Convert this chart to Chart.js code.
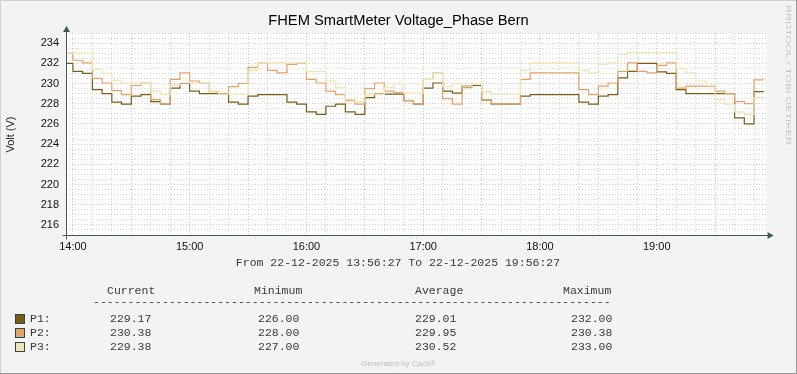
<!DOCTYPE html>
<html>
<head>
<meta charset="utf-8">
<script src="https://cdn.jsdelivr.net/npm/chart.js@4.4.1/dist/chart.umd.min.js"></script>
<style>
  html, body { margin: 0; padding: 0; background: #f3f3f3; }
  #wrap { width: 797px; height: 374px; }
</style>
</head>
<body>
<div id="wrap"><canvas id="voltChart" width="797" height="374"></canvas></div>
<script>
// 5 minute buckets: first 13:55-14:00, last 19:50-19:55 (minutes since midnight)
const startMinute = 13 * 60 + 55;
const stepMinutes = 5;
const xMin = 13 * 60 + 56 + 27 / 60;
const xMax = xMin + 6 * 60;
const yMin = 215;
const yMax = 235;

const p1Values = [
  232.0, 231.2, 231.0, 229.4, 229.0, 228.15, 227.95, 228.75, 228.9, 228.2,
  227.95, 229.55, 230.0, 229.25, 229.0, 229.0, 229.0, 228.15, 227.95, 228.75,
  228.9, 228.9, 228.9, 228.15, 227.95, 227.2, 226.95, 227.75, 227.95, 227.2,
  226.95, 228.6, 228.95, 228.95, 228.95, 228.3, 227.95, 229.55, 230.05, 229.25,
  229.05, 229.75, 229.8, 228.35, 227.95, 227.95, 227.95, 228.75, 228.9, 228.9,
  228.9, 228.9, 228.9, 228.15, 227.95, 228.75, 228.9, 230.55, 231.2, 232.0,
  232.0, 231.15, 231.0, 229.4, 229.0, 229.0, 229.0, 229.0, 229.0, 226.6,
  226.0, 229.2
];
const p2Values = [
  233.0, 232.3, 232.05, 230.5, 230.05, 229.3, 228.9, 229.8, 230.05, 228.4,
  227.95, 230.4, 231.05, 230.25, 230.05, 229.2, 228.95, 229.7, 230.0, 231.6,
  232.05, 231.3, 231.05, 231.9, 232.0, 230.4, 230.05, 229.25, 228.9, 228.3,
  227.95, 229.5, 230.05, 229.25, 229.1, 228.3, 227.95, 230.4, 231.05, 228.5,
  227.95, 229.6, 230.0, 228.35, 227.95, 227.95, 227.95, 230.4, 231.05, 231.05,
  231.05, 231.05, 231.05, 229.4, 228.9, 229.75, 230.05, 231.2, 232.05, 231.2,
  231.05, 231.8, 232.05, 229.55, 229.75, 229.75, 229.75, 229.25, 229.0, 228.2,
  228.0, 230.35
];
const p3Values = [
  233.0, 233.0, 233.0, 231.4, 231.0, 230.3, 230.05, 230.05, 230.05, 229.25,
  228.9, 229.8, 230.05, 230.05, 230.05, 229.25, 228.95, 228.95, 228.95, 231.3,
  232.05, 232.05, 232.05, 232.05, 232.05, 231.2, 231.2, 230.25, 229.6, 228.4,
  228.2, 228.9, 228.9, 229.6, 229.95, 229.05, 229.05, 230.4, 231.05, 229.7,
  229.95, 229.75, 230.0, 229.2, 228.95, 228.95, 228.95, 231.3, 232.05, 232.05,
  232.05, 232.05, 232.05, 231.3, 231.05, 231.9, 232.05, 232.9, 233.05, 233.05,
  233.05, 233.05, 233.05, 231.5, 231.05, 230.25, 229.8, 228.4, 227.95, 227.2,
  226.95, 228.6
];

const seriesNames = ["P1", "P2", "P3"];
const seriesColors = ["#7b5c14", "#e3a268", "#efe6b4"];

const hourLabels = ["14:00", "15:00", "16:00", "17:00", "18:00", "19:00"];
const firstHourMinute = 14 * 60;

const legendHeader = ["Current", "Minimum", "Average", "Maximum"];
const legendRows = [
  ["229.17", "226.00", "229.01", "232.00"],
  ["230.38", "228.00", "229.95", "230.38"],
  ["229.38", "227.00", "230.52", "233.00"]
];

const titleText = "FHEM SmartMeter Voltage_Phase Bern";
const yTitle = "Volt (V)";
const rangeText = "From 22-12-2025 13:56:27 To 22-12-2025 19:56:27";
const footerText = "Generated by Cacti\u00ae";
const watermarkText = "RRDTOOL / TOBI OETIKER";

const sans = "'Liberation Sans', Arial, sans-serif";
const mono = "'Liberation Mono', 'DejaVu Sans Mono', monospace";
const axisColor = "#3d5a55";
const majorGrid = "rgba(235, 140, 140, 0.6)";
const minorGrid = "rgba(185, 185, 185, 0.55)";

function toPoints(values) {
  const pts = values.map((v, i) => ({ x: startMinute + i * stepMinutes, y: v }));
  // close the last bucket
  pts.push({ x: startMinute + values.length * stepMinutes, y: values[values.length - 1] });
  return pts;
}

const allSeries = [p1Values, p2Values, p3Values];

const rrdDecor = {
  id: "rrdDecor",
  beforeDraw(chart) {
    const { ctx, chartArea: a } = chart;
    ctx.save();
    ctx.fillStyle = "#f3f3f3";
    ctx.fillRect(0, 0, chart.width, chart.height);
    ctx.fillStyle = "#ffffff";
    ctx.fillRect(a.left, a.top, a.right - a.left, a.bottom - a.top);
    // frame
    ctx.lineWidth = 1;
    ctx.strokeStyle = "#d0d0d0";
    ctx.beginPath();
    ctx.moveTo(0.5, chart.height);
    ctx.lineTo(0.5, 0.5);
    ctx.lineTo(chart.width, 0.5);
    ctx.stroke();
    ctx.strokeStyle = "#9a9a9a";
    ctx.beginPath();
    ctx.moveTo(chart.width - 0.5, 0);
    ctx.lineTo(chart.width - 0.5, chart.height - 0.5);
    ctx.lineTo(0, chart.height - 0.5);
    ctx.stroke();
    ctx.restore();
  },
  afterDatasetsDraw(chart) {
    const { ctx, chartArea: a } = chart;
    ctx.save();

    // axes with arrows
    const ax = Math.round(a.left) + 0.5;
    const ay = Math.round(a.bottom) + 0.5;
    ctx.strokeStyle = axisColor;
    ctx.fillStyle = axisColor;
    ctx.lineWidth = 1;
    ctx.beginPath();
    ctx.moveTo(ax, ay + 4);
    ctx.lineTo(ax, a.top - 3);
    ctx.moveTo(ax - 4, ay);
    ctx.lineTo(a.right + 2, ay);
    ctx.stroke();
    ctx.beginPath();
    ctx.moveTo(ax - 3.5, a.top - 1);
    ctx.lineTo(ax + 3.5, a.top - 1);
    ctx.lineTo(ax, a.top - 7);
    ctx.closePath();
    ctx.fill();
    ctx.beginPath();
    ctx.moveTo(a.right + 1, ay - 3.5);
    ctx.lineTo(a.right + 1, ay + 3.5);
    ctx.lineTo(a.right + 7, ay);
    ctx.closePath();
    ctx.fill();

    // title
    ctx.fillStyle = "#000";
    ctx.font = "14.7px " + sans;
    ctx.textAlign = "center";
    ctx.textBaseline = "middle";
    ctx.fillText(titleText, 398.5, 21);

    // y axis title
    ctx.save();
    ctx.translate(11, 134.5);
    ctx.rotate(-Math.PI / 2);
    ctx.font = "11px " + sans;
    ctx.fillStyle = "#222";
    ctx.fillText(yTitle, 0, 0);
    ctx.restore();

    // watermark
    ctx.save();
    ctx.translate(788, 5);
    ctx.rotate(Math.PI / 2);
    ctx.font = "7.5px " + sans;
    ctx.fillStyle = "#c4c4c4";
    ctx.textAlign = "left";
    const ww = ctx.measureText(watermarkText).width;
    ctx.scale(140 / ww, 1);
    ctx.fillText(watermarkText, 0, 0);
    ctx.restore();

    // time range
    ctx.font = "11.5px " + mono;
    ctx.fillStyle = "#3a3a3a";
    ctx.textAlign = "center";
    ctx.fillText(rangeText, 398, 263);

    // legend table
    ctx.textAlign = "left";
    const headX = [107, 254, 415, 563];
    const valX = [110, 258, 415, 571];
    legendHeader.forEach((h, i) => ctx.fillText(h, headX[i], 291));
    ctx.fillText("-".repeat(75), 93, 302);
    const rowY = [319, 333, 347];
    seriesNames.forEach((name, r) => {
      ctx.fillStyle = seriesColors[r];
      ctx.fillRect(15.5, rowY[r] - 4.5, 9, 9);
      ctx.strokeStyle = "#2c4a44";
      ctx.strokeRect(15.5, rowY[r] - 4.5, 9, 9);
      ctx.fillStyle = "#3a3a3a";
      ctx.fillText(name + ":", 30, rowY[r]);
      legendRows[r].forEach((v, i) => ctx.fillText(v, valX[i], rowY[r]));
    });

    // footer
    ctx.font = "8px " + sans;
    ctx.fillStyle = "#bdbdbd";
    ctx.textAlign = "center";
    ctx.fillText(footerText, 398.5, 364);

    ctx.restore();
  }
};

new Chart(document.getElementById("voltChart"), {
  type: "line",
  data: {
    datasets: allSeries.map((vals, i) => ({
      label: seriesNames[i],
      data: toPoints(vals),
      borderColor: seriesColors[i],
      backgroundColor: seriesColors[i],
      borderWidth: 1.2,
      pointRadius: 0,
      stepped: true,
      fill: false,
      order: 2 - i
    }))
  },
  options: {
    responsive: false,
    animation: false,
    devicePixelRatio: 1,
    layout: { padding: { left: 0, right: 30.4, top: 33, bottom: 119 } },
    plugins: {
      legend: { display: false },
      title: { display: false },
      tooltip: { enabled: false }
    },
    scales: {
      x: {
        type: "linear",
        min: xMin,
        max: xMax,
        afterBuildTicks: s => {
          const ticks = [];
          for (let m = firstHourMinute; m <= xMax; m += 10) ticks.push({ value: m });
          s.ticks = ticks;
        },
        afterFit: s => { s.height = 20; },
        grid: {
          drawTicks: false,
          lineWidth: 1,
          color: c => (c.tick && c.tick.value % 30 === 0 ? majorGrid : minorGrid)
        },
        border: { display: false, dash: [1, 2] },
        ticks: {
          autoSkip: false,
          maxRotation: 0,
          padding: 5,
          color: "#111",
          font: { family: sans, size: 11 },
          callback: v => (v % 60 === 0 ? hourLabels[(v - firstHourMinute) / 60] : "")
        }
      },
      y: {
        min: yMin,
        max: yMax,
        afterBuildTicks: s => {
          const ticks = [];
          for (let v = yMin; v <= yMax; v += 0.5) ticks.push({ value: v });
          s.ticks = ticks;
        },
        afterFit: s => { s.width = 66; },
        grid: {
          drawTicks: false,
          lineWidth: 1,
          color: c => (c.tick && c.tick.value % 2 === 0 ? majorGrid : minorGrid)
        },
        border: { display: false, dash: [1, 2] },
        ticks: {
          autoSkip: false,
          padding: 7,
          color: "#111",
          font: { family: sans, size: 11 },
          callback: v => (v % 2 === 0 && v > yMin ? String(v) : "")
        }
      }
    }
  },
  plugins: [rrdDecor]
});
</script>
</body>
</html>
